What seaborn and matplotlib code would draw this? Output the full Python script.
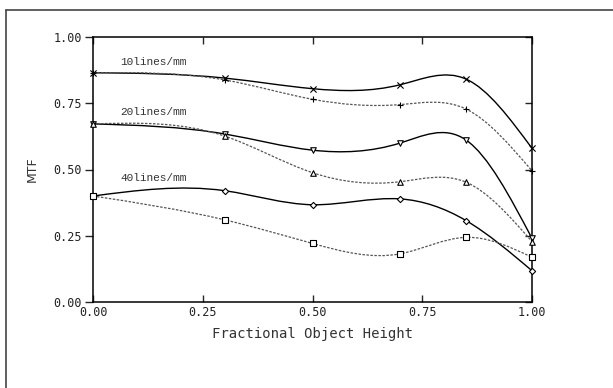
import numpy as np
import matplotlib
matplotlib.use("Agg")
import matplotlib.pyplot as plt
from matplotlib.path import Path
from matplotlib.patches import PathPatch
from matplotlib.lines import Line2D
import seaborn as sns

# ---- data ----
field = [0.0, 0.3, 0.5, 0.7, 0.85, 1.0]
t10 = [0.865, 0.845, 0.805, 0.820, 0.841, 0.580]
s10 = [0.865, 0.838, 0.765, 0.745, 0.728, 0.495]
t20 = [0.672, 0.634, 0.573, 0.600, 0.611, 0.240]
s20 = [0.672, 0.626, 0.488, 0.454, 0.452, 0.228]
t40 = [0.400, 0.420, 0.367, 0.389, 0.307, 0.118]
s40 = [0.400, 0.310, 0.221, 0.182, 0.244, 0.169]
labels = ["10lines/mm", "20lines/mm", "40lines/mm"]
label_y = [0.905, 0.718, 0.469]
xticks = [0.0, 0.25, 0.5, 0.75, 1.0]
yticks = [0.0, 0.25, 0.5, 0.75, 1.0]

sns.set_style("ticks")
plt.rcParams['font.family'] = ['DejaVu Sans']

fig = plt.figure(figsize=(6.13, 3.88), dpi=100)
ax = fig.add_axes([93/613, 1-302/388, 439/613, 265/388])


def spline_path(x, y):
    x = np.asarray(x, float); y = np.asarray(y, float)
    n = len(x); h = np.diff(x)
    A = np.zeros((n, n)); b = np.zeros(n)
    A[0, 0] = 1; A[-1, -1] = 1
    for i in range(1, n-1):
        A[i, i-1] = h[i-1]; A[i, i] = 2*(h[i-1]+h[i]); A[i, i+1] = h[i]
        b[i] = 6*((y[i+1]-y[i])/h[i] - (y[i]-y[i-1])/h[i-1])
    M = np.linalg.solve(A, b)
    verts = [(x[0], y[0])]; codes = [Path.MOVETO]
    for i in range(n-1):
        s = (y[i+1]-y[i])/h[i]
        d0 = s - h[i]*(2*M[i]+M[i+1])/6
        d1 = s + h[i]*(M[i]+2*M[i+1])/6
        verts += [(x[i]+h[i]/3, y[i]+d0*h[i]/3),
                  (x[i+1]-h[i]/3, y[i+1]-d1*h[i]/3),
                  (x[i+1], y[i+1])]
        codes += [Path.CURVE4]*3
    return Path(verts, codes)


series = [
    (t10, 'x', '-'), (s10, '+', (0, (2.0, 1.2))),
    (t20, 'v', '-'), (s20, '^', (0, (2.0, 1.2))),
    (t40, 'D', '-'), (s40, 's', (0, (2.0, 1.2))),
]
for vals, mk, ls in series:
    dashed = ls != '-'
    col = '#555555' if dashed else 'black'
    ax.add_patch(PathPatch(spline_path(field, vals), facecolor='none',
                           edgecolor=col, lw=0.9 if dashed else 1.0,
                           linestyle=ls, zorder=2))
    if mk in ('x', '+'):
        sns.scatterplot(x=field, y=vals, marker=mk, color='black', s=20,
                        linewidth=0.8, ax=ax, zorder=3, clip_on=False)
    else:
        sz = 10 if mk == 'D' else 16
        sns.scatterplot(x=field, y=vals, marker=mk, facecolor='white',
                        edgecolor='black', s=sz, linewidth=0.8, ax=ax,
                        zorder=3, clip_on=False)

for lab, yy in zip(labels, label_y):
    ax.text(0.062, yy, lab, fontsize=8, family='Liberation Mono',
            color='#333333', va='center', ha='left')

ax.set_xlim(0, 1)
ax.set_ylim(0, 1)
ax.set_xticks(xticks)
ax.set_yticks(yticks)
ax.set_xticklabels([f"{v:.2f}" for v in xticks], family='DejaVu Sans Mono',
                   fontsize=8.5, color='#222222')
ax.set_yticklabels([f"{v:.2f}" for v in yticks], family='DejaVu Sans Mono',
                   fontsize=8.5, color='#222222')
ax.tick_params(axis='y', which='both', direction='out', length=6, width=1,
               pad=2)
ax.tick_params(axis='x', which='both', direction='in', length=5, width=1,
               pad=3, top=True)
for sp in ax.spines.values():
    sp.set_visible(True)
    sp.set_linewidth(1.1)
    sp.set_color('black')
# right ticks inward
axr = ax.secondary_yaxis('right')
axr.set_yticks(yticks)
axr.tick_params(direction='in', length=5, width=1, labelright=False)
axr.spines['right'].set_visible(False)
ax.tick_params(axis='y', right=False)

ax.set_xlabel("Fractional Object Height", family='DejaVu Sans Mono',
              fontsize=10, color='#333333')
ax.xaxis.set_label_coords(0.5, -0.095)
ax.set_ylabel("MTF", fontsize=9, color='#333333')
ax.yaxis.set_label_coords(-0.123, 0.5)

# outer frame (top and left edges visible)
yb = 1 - 10/388; xb = 6/613
fig.add_artist(Line2D([xb, 1], [yb, yb], transform=fig.transFigure,
                      color='#444444', lw=1.2))
fig.add_artist(Line2D([xb, xb], [yb, 0], transform=fig.transFigure,
                      color='#444444', lw=1.2))

fig.savefig("out.png", dpi=100)
